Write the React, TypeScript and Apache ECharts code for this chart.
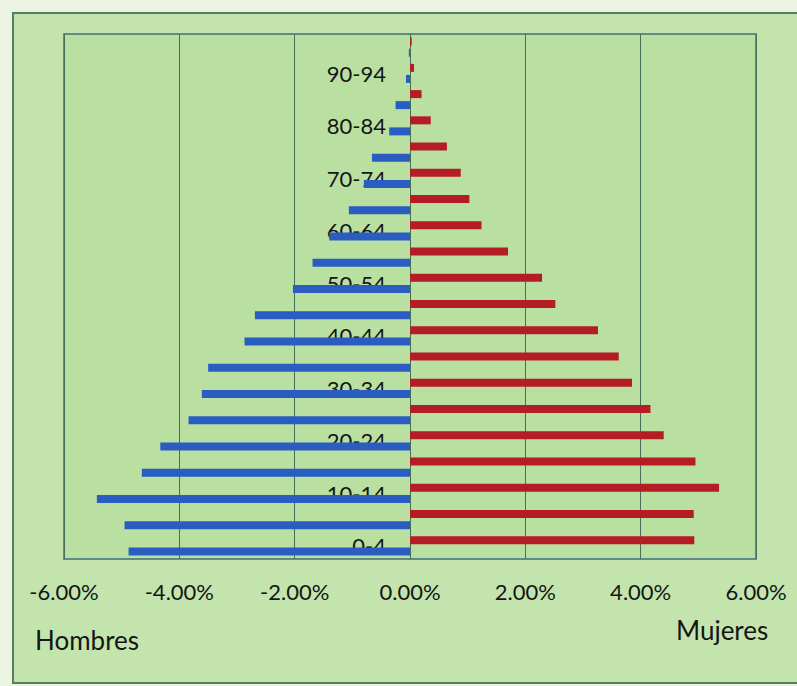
import React, { useEffect, useRef } from "react";
import * as echarts from "echarts";

const categories = [
  "0-4", "5-9", "10-14", "15-19", "20-24", "25-29", "30-34", "35-39", "40-44", "45-49",
  "50-54", "55-59", "60-64", "65-69", "70-74", "75-79", "80-84", "85-89", "90-94", "95-99",
];
// Percentages of total population
const hombres = [4.88, 4.95, 5.43, 4.65, 4.33, 3.84, 3.61, 3.5, 2.87, 2.69, 2.03, 1.69, 1.4, 1.06, 0.8, 0.66, 0.36, 0.25, 0.07, 0.02];
const mujeres = [4.93, 4.92, 5.36, 4.95, 4.4, 4.17, 3.85, 3.62, 3.26, 2.52, 2.29, 1.7, 1.24, 1.03, 0.88, 0.64, 0.36, 0.2, 0.07, 0.03];
const xTicks = [-6, -4, -2, 0, 2, 4, 6];
const xTickLabels = ["-6.00%", "-4.00%", "-2.00%", "0.00%", "2.00%", "4.00%", "6.00%"];

const FONT = "Lato, 'Open Sans', sans-serif";

export default function App() {
  const ref = useRef<HTMLDivElement>(null);
  useEffect(() => {
    if (!ref.current) return;
    const chart = echarts.init(ref.current, null, { renderer: "svg" });
    chart.setOption({
      animation: false,
      backgroundColor: "#eaf4e0",
      textStyle: { fontFamily: FONT },
      graphic: [
        {
          type: "rect",
          z: -10,
          shape: { x: 13, y: 13, width: 800, height: 670 },
          style: { fill: "#c3e5ad", stroke: "#557d68", lineWidth: 2 },
        },
        {
          type: "text",
          left: 35,
          top: 627,
          style: { text: "Hombres", font: `26px ${FONT}`, fill: "#151515" },
        },
        {
          type: "text",
          left: 676,
          top: 617,
          style: { text: "Mujeres", font: `26px ${FONT}`, fill: "#151515" },
        },
      ],
      grid: {
        left: 64,
        right: 41,
        top: 34,
        bottom: 127,
        show: true,
        backgroundColor: "#b9e0a1",
        borderColor: "#3f6e7c",
        borderWidth: 1.5,
      },
      xAxis: {
        type: "value",
        min: xTicks[0],
        max: xTicks[xTicks.length - 1],
        interval: 2,
        axisLine: { show: false },
        axisTick: { show: false },
        splitLine: { show: true, lineStyle: { color: "#45705a", width: 1 } },
        axisLabel: {
          margin: 21,
          fontSize: 22,
          color: "#151515",
          fontFamily: FONT,
          formatter: (v: number) => xTickLabels[xTicks.indexOf(v)] ?? "",
        },
      },
      yAxis: {
        type: "category",
        data: categories,
        offset: -346,
        axisLine: { show: false, onZero: false },
        axisTick: { show: false },
        axisLabel: {
          interval: 1,
          margin: 24,
          fontSize: 22,
          color: "#151515",
          fontFamily: FONT,
        },
      },
      series: [
        {
          name: "Mujeres",
          type: "bar",
          data: mujeres,
          barWidth: 8,
          barGap: "38%",
          itemStyle: { color: "#b51d26" },
        },
        {
          name: "Hombres",
          type: "bar",
          data: hombres.map((v) => -v),
          barWidth: 8,
          itemStyle: { color: "#2a5cc2" },
        },
      ],
    });
    return () => chart.dispose();
  }, []);
  return (
    <div style={{ position: "absolute", left: 0, top: 0, width: 797, height: 686 }}>
      <div ref={ref} style={{ width: 797, height: 686 }} />
    </div>
  );
}
